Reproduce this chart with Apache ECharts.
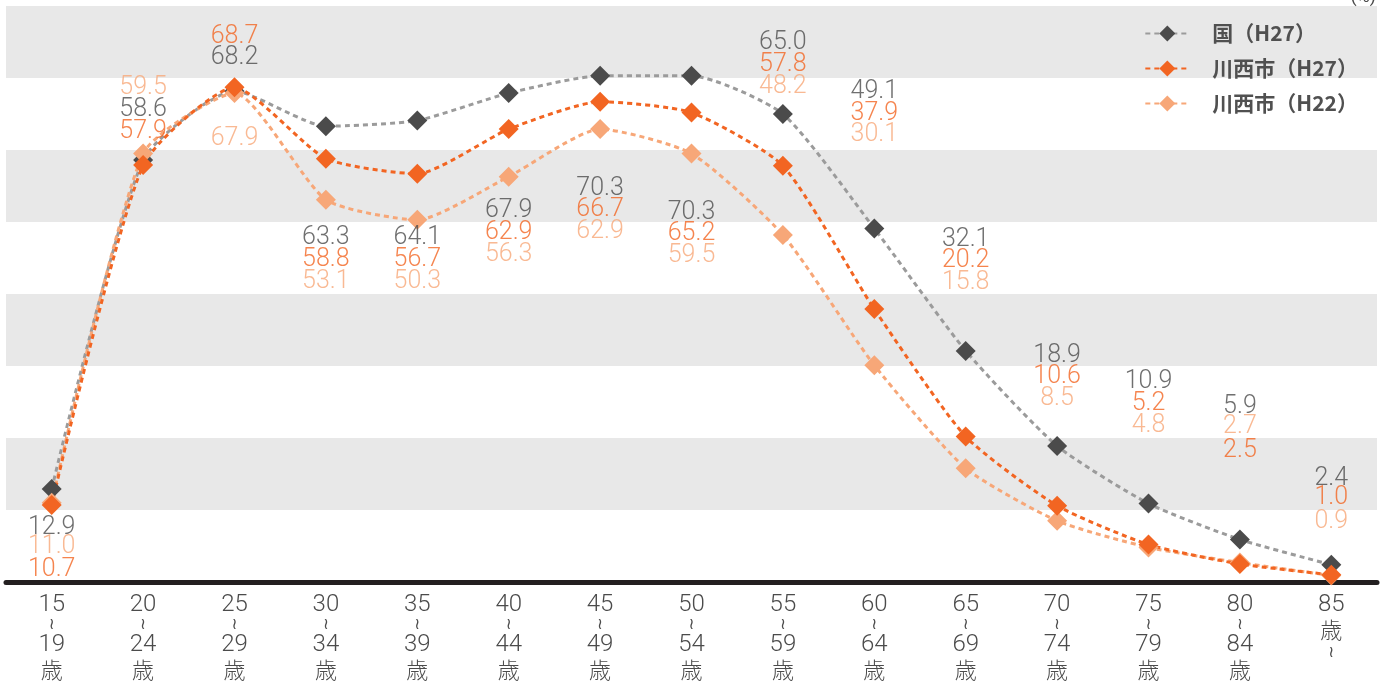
<!DOCTYPE html>
<html>
<head>
<meta charset="utf-8">
<script src="https://cdn.jsdelivr.net/npm/echarts@6/dist/echarts.min.js"></script>
<style>
  html, body { margin: 0; padding: 0; background: #fff; }
  #chart { width: 1389px; height: 684px; }
</style>
</head>
<body>
<div id="chart"></div>
<script>
// 年齢階級
const categories = ['15～19歳', '20～24歳', '25～29歳', '30～34歳', '35～39歳', '40～44歳', '45～49歳',
  '50～54歳', '55～59歳', '60～64歳', '65～69歳', '70～74歳', '75～79歳', '80～84歳', '85歳～']

// 労働力率 (%)
const kuni_h27 = [12.9, 58.6, 68.2, 63.3, 64.1, 67.9, 70.3, 70.3, 65.0, 49.1, 32.1, 18.9, 10.9, 5.9, 2.4]
const kawanishi_h27 = [10.7, 57.9, 68.7, 58.8, 56.7, 62.9, 66.7, 65.2, 57.8, 37.9, 20.2, 10.6, 5.2, 2.5, 1.0]
const kawanishi_h22 = [11.0, 59.5, 67.9, 53.1, 50.3, 56.3, 62.9, 59.5, 48.2, 30.1, 15.8, 8.5, 4.8, 2.7, 0.9]

// where each value label sits (in axis units)
const kuniLabelAt = [7.6, 65.6, 72.8, 47.8, 47.8, 51.5, 54.6, 51.3, 74.9, 68.1, 47.6, 31.4, 27.8, 24.3, 14.4]
const h27LabelAt = [1.7, 62.5, 75.7, 44.7, 44.7, 48.5, 51.7, 48.3, 71.8, 65.1, 44.6, 28.5, 24.7, 18.2, 11.7]
const h22LabelAt = [4.9, 68.6, 61.5, 41.7, 41.7, 45.4, 48.6, 45.3, 68.8, 62.1, 41.5, 25.4, 21.7, 21.5, 8.3]

const GREY = '#4b4b4b'
const ORANGE = '#f26522'
const LIGHT = '#f7a778'

function lineSeries(name, data, lineColor, markColor) {
  return {
    name: name,
    type: 'line',
    data: data,
    smooth: 0.2,
    symbol: 'diamond',
    symbolSize: 20,
    itemStyle: { color: markColor },
    lineStyle: { color: lineColor, width: 3, type: [5, 4] },
    z: 3
  }
}

function labelSeries(values, at, color) {
  return {
    type: 'scatter',
    silent: true,
    symbolSize: 0.1,
    itemStyle: { color: 'transparent' },
    data: at.map((y, i) => [i, y]),
    label: {
      show: true,
      position: 'inside',
      formatter: p => values[p.dataIndex].toFixed(1),
      color: color,
      fontFamily: 'Roboto',
      fontWeight: 300,
      fontSize: 25
    },
    z: 5
  }
}

const chart = echarts.init(document.getElementById('chart'))
chart.setOption({
  animation: false,
  title: {
    text: '(%)',
    right: 8,
    top: -17,
    textStyle: { color: GREY, fontSize: 18, fontWeight: 'normal', fontFamily: 'Roboto' }
  },
  legend: {
    data: ['国（H27）', '川西市（H27）', '川西市（H22）'],
    orient: 'vertical',
    right: 26,
    top: 18,
    itemWidth: 44,
    itemHeight: 20,
    itemGap: 14,
    textStyle: {
      color: '#505050',
      fontSize: 21,
      lineHeight: 20,
      fontWeight: 'bold',
      fontFamily: 'Noto Sans CJK JP',
      padding: [0, 0, 0, 18]
    }
  },
  grid: { left: 6, right: 12, top: 6, bottom: 102 },
  xAxis: {
    type: 'category',
    data: categories,
    axisTick: { show: false },
    axisLine: { lineStyle: { color: '#231f20', width: 5 } },
    axisLabel: {
      margin: 12,
      interval: 0,
      formatter: v => {
        if (v.endsWith('～')) {
          return '{n|' + v.replace('歳～', '') + '}\n{k|歳}\n{t|≀}'
        }
        const parts = v.replace('歳', '').split('～')
        return '{n|' + parts[0] + '}\n{t|≀}\n{n|' + parts[1] + '}\n{k|歳}'
      },
      rich: {
        n: { fontFamily: 'Roboto', fontWeight: 300, fontSize: 24, lineHeight: 22, color: GREY },
        t: { fontFamily: 'DejaVu Sans', fontSize: 16, lineHeight: 18, color: GREY },
        k: { fontFamily: 'Noto Sans CJK JP', fontWeight: 300, fontSize: 22, lineHeight: 28, color: GREY }
      }
    }
  },
  yAxis: {
    type: 'value',
    min: 0,
    max: 80,
    interval: 10,
    axisLabel: { show: false },
    axisLine: { show: false },
    axisTick: { show: false },
    splitLine: { show: false },
    splitArea: { show: true, areaStyle: { color: ['#ffffff', '#e8e8e8'] } }
  },
  series: [
    lineSeries('国（H27）', kuni_h27, '#9b9b9b', GREY),
    lineSeries('川西市（H22）', kawanishi_h22, LIGHT, LIGHT),
    lineSeries('川西市（H27）', kawanishi_h27, ORANGE, ORANGE),
    labelSeries(kuni_h27, kuniLabelAt, GREY),
    labelSeries(kawanishi_h27, h27LabelAt, ORANGE),
    labelSeries(kawanishi_h22, h22LabelAt, LIGHT)
  ]
})
</script>
</body>
</html>
